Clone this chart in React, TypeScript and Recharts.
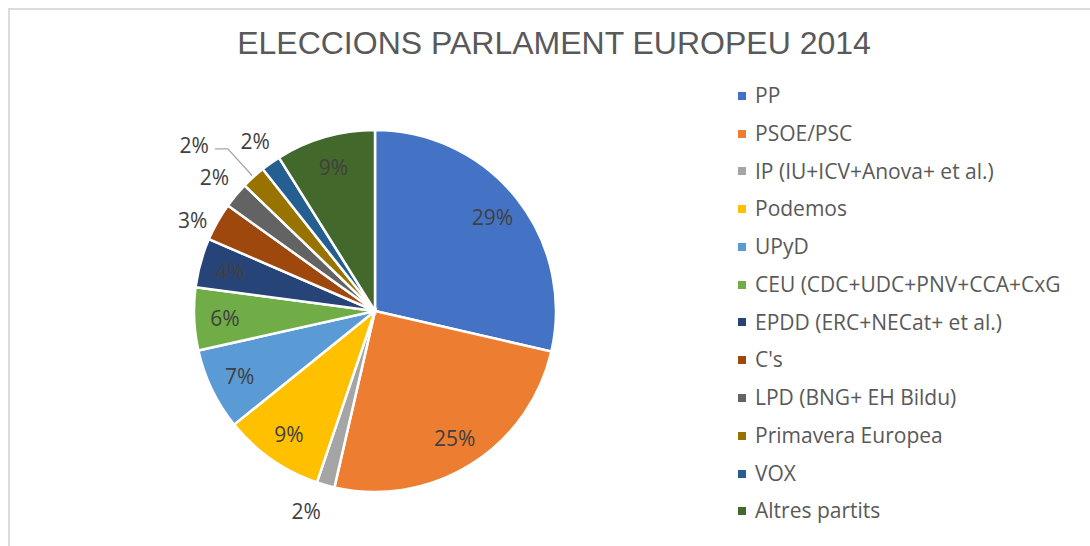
import { PieChart, Pie, Cell, Legend } from 'recharts'

const parties = [
  'PP',
  'PSOE/PSC',
  'IP (IU+ICV+Anova+ et al.)',
  'Podemos',
  'UPyD',
  'CEU (CDC+UDC+PNV+CCA+CxG',
  'EPDD (ERC+NECat+ et al.)',
  "C's",
  'LPD (BNG+ EH Bildu)',
  'Primavera Europea',
  'VOX',
  'Altres partits',
]
const shares = [28.6, 25.0, 1.6, 9.0, 7.3, 5.6, 4.4, 3.4, 2.3, 2.15, 1.75, 8.9]

const COLORS = [
  '#4472C4', '#ED7D31', '#A5A5A5', '#FFC000', '#5B9BD5', '#70AD47',
  '#264478', '#9E480E', '#636363', '#997300', '#255E91', '#43682B',
]

const data = parties.map((name, i) => ({ name, value: shares[i] }))

const RAD = Math.PI / 180
const FONT = '"Open Sans", "Noto Sans", sans-serif'

// labels outside the pie for the thin slices (radius + small nudges)
const OUTSIDE: Record<number, { r: number; dx?: number; dy?: number; leader?: boolean }> = {
  2: { r: 208, dx: -12 },
  7: { r: 205, dx: -4, dy: 10 },
  8: { r: 209 },
  9: { r: 183, leader: true },
  10: { r: 208 },
}

const renderLabel = (p: any) => {
  const { cx, cy, midAngle, outerRadius, percent, index } = p
  const txt = `${Math.round(percent * 100)}%`
  const cos = Math.cos(-midAngle * RAD)
  const sin = Math.sin(-midAngle * RAD)
  const o = OUTSIDE[index]
  const style = { fontFamily: FONT, fontSize: 21, fill: '#404040' }
  if (o?.leader) {
    const sx = cx + o.r * cos
    const sy = cy + o.r * sin
    const ex = cx + (o.r + 36) * cos
    const ey = cy + (o.r + 36) * sin
    return (
      <g key={`lbl-${index}`}>
        <polyline points={`${sx},${sy} ${ex},${ey} ${ex - 13},${ey}`} fill="none" stroke="#a6a6a6" strokeWidth={1.3} />
        <text x={ex - 19} y={ey - 4} textAnchor="end" dominantBaseline="central" {...style}>{txt}</text>
      </g>
    )
  }
  const r = o ? o.r : outerRadius * 0.83
  const x = cx + r * cos + (o?.dx ?? 0)
  const y = cy + r * sin + (o?.dy ?? 0)
  return (
    <text key={`lbl-${index}`} x={x} y={y} textAnchor="middle" dominantBaseline="central" {...style}>
      {txt}
    </text>
  )
}

const LegendList = () => (
  <div style={{ fontFamily: FONT, fontSize: 21, color: '#595959', lineHeight: '37.77px' }}>
    {parties.map((name, i) => (
      <div key={name} style={{ display: 'flex', alignItems: 'center', whiteSpace: 'nowrap' }}>
        <span style={{ width: 8, height: 8, background: COLORS[i], display: 'inline-block', marginRight: 9 }} />
        <span>{name}</span>
      </div>
    ))}
  </div>
)

export default function App() {
  return (
    <div style={{ position: 'absolute', left: 0, top: 0, width: 1090, height: 546, background: '#fff', overflow: 'hidden' }}>
      <div style={{ position: 'absolute', left: 8, top: 8, width: 1100, height: 560, borderTop: '2px solid #dcdcdc', borderLeft: '2px solid #dcdcdc' }} />
      <div
        style={{
          position: 'absolute', left: 0, width: 1108, top: 24, textAlign: 'center',
          fontFamily: '"Liberation Sans", Arial, sans-serif', fontSize: 32, color: '#595959', lineHeight: '38px',
        }}
      >
        ELECCIONS PARLAMENT EUROPEU 2014
      </div>
      <PieChart
        width={1090}
        height={546}
        margin={{ top: 0, right: 0, bottom: 0, left: 0 }}
        style={{ position: 'absolute', left: 0, top: 0 }}
      >
        <Pie
          data={data}
          dataKey="value"
          nameKey="name"
          cx={375}
          cy={311}
          outerRadius={181}
          startAngle={90}
          endAngle={-270}
          stroke="#fff"
          strokeWidth={2.5}
          label={renderLabel}
          labelLine={false}
          isAnimationActive={false}
        >
          {data.map((d, i) => (
            <Cell key={d.name} fill={COLORS[i]} />
          ))}
        </Pie>
        <Legend
          content={<LegendList />}
          wrapperStyle={{ position: 'absolute', left: 738, top: 77, width: 350 }}
        />
      </PieChart>
    </div>
  )
}
